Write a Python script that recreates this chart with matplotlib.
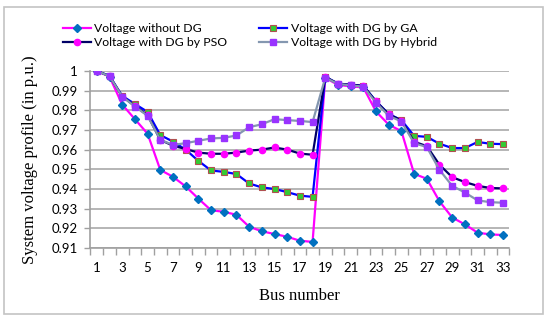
import matplotlib
matplotlib.use("Agg")
import matplotlib.pyplot as plt
from matplotlib.patches import Rectangle

buses = list(range(1, 34))
v_without = [1.0, 0.9971, 0.9829, 0.9755, 0.9681, 0.9497, 0.9462, 0.9413, 0.9351, 0.9292,
             0.9284, 0.9269, 0.9208, 0.9185, 0.9171, 0.9157, 0.9137, 0.9131, 0.9965, 0.9929,
             0.9922, 0.9916, 0.9794, 0.9727, 0.9694, 0.9477, 0.9452, 0.9337, 0.9255, 0.9220,
             0.9178, 0.9169, 0.9166]
v_ga = [1.0, 0.9975, 0.9873, 0.9832, 0.9792, 0.9674, 0.9641, 0.9600, 0.9543, 0.9494,
        0.9487, 0.9476, 0.9428, 0.9408, 0.9400, 0.9384, 0.9366, 0.9360, 0.9970, 0.9936,
        0.9930, 0.9925, 0.9846, 0.9781, 0.9750, 0.9670, 0.9665, 0.9630, 0.9608, 0.9608,
        0.9639, 0.9630, 0.9628]
v_pso = [1.0, 0.9974, 0.9870, 0.9822, 0.9775, 0.9650, 0.9620, 0.9603, 0.9585, 0.9579,
         0.9579, 0.9585, 0.9595, 0.9600, 0.9611, 0.9600, 0.9580, 0.9574, 0.9970, 0.9935,
         0.9930, 0.9924, 0.9845, 0.9780, 0.9748, 0.9640, 0.9618, 0.9523, 0.9460, 0.9435,
         0.9416, 0.9405, 0.9403]
v_hybrid = [1.0, 0.9973, 0.9870, 0.9819, 0.9772, 0.9650, 0.9624, 0.9633, 0.9645, 0.9657,
            0.9660, 0.9672, 0.9714, 0.9729, 0.9755, 0.9750, 0.9746, 0.9740, 0.9966, 0.9934,
            0.9927, 0.9920, 0.9839, 0.9772, 0.9743, 0.9633, 0.9613, 0.9497, 0.9416, 0.9382,
            0.9342, 0.9333, 0.9330]
y_ticks = [0.91, 0.92, 0.93, 0.94, 0.95, 0.96, 0.97, 0.98, 0.99, 1.0]
y_labels = ["0.91", "0.92", "0.93", "0.94", "0.95", "0.96", "0.97", "0.98", "0.99", "1"]

fig = plt.figure(figsize=(5.5, 3.24), dpi=100)
frame = Rectangle((4 / 550, 1 - 314 / 324), 539 / 550, 307 / 324, transform=fig.transFigure,
                  facecolor="none", edgecolor="#C4C4C4", linewidth=1.2, zorder=-5)
fig.add_artist(frame)
ax = fig.add_axes([0.1645, 0.2346, 0.7615, 0.5464])
ax.set_facecolor("none")

l1, = ax.plot(buses, v_without, color="#FF00FF", lw=1.6, marker="D", ms=4.5,
              mfc="#0070C0", mec="#0070C0", label="Voltage without DG", zorder=3)
l2, = ax.plot(buses, v_ga, color="#0000FF", lw=1.6, marker="s", ms=4.3,
              mfc="#33CC33", mec="#B05050", mew=0.8, label="Voltage with DG by GA", zorder=4)
l3, = ax.plot(buses, v_pso, color="#000066", lw=1.6, marker="o", ms=4.5,
              mfc="#FF00FF", mec="#FF00FF", label="Voltage with DG by PSO", zorder=5)
l4, = ax.plot(buses, v_hybrid, color="#8497B0", lw=1.6, marker="s", ms=4.5,
              mfc="#9933FF", mec="#9933FF", label="Voltage with DG by Hybrid", zorder=6)

ax.set_xlim(0.5, 33.5)
ax.set_ylim(0.91, 1.0)
ax.set_yticks(y_ticks)
ax.set_yticklabels(y_labels, fontfamily="Lato", fontsize=9.5)
ax.set_xticks(buses[::2])
ax.set_xticklabels([str(b) for b in buses[::2]], fontfamily="Lato", fontsize=9.5)
ax.set_xticks([b + 0.5 for b in range(0, 34)], minor=True)
ax.tick_params(axis="x", which="major", length=0, pad=10)
ax.tick_params(axis="x", which="minor", length=5, color="#A0A0A0", width=1)
ax.tick_params(axis="y", length=4, color="#A0A0A0", width=1, pad=5)
ax.grid(axis="y", color="#B0B0B0", lw=1.3, zorder=0)
for s in ["top", "right"]:
    ax.spines[s].set_visible(False)
for s in ["bottom", "left"]:
    ax.spines[s].set_color("#A0A0A0")
    ax.spines[s].set_linewidth(1.2)

ax.set_ylabel("System voltage profile (in p.u.)", fontfamily="Liberation Serif", fontsize=12, labelpad=10)
ax.set_xlabel("Bus number", fontfamily="Liberation Serif", fontsize=12, labelpad=10)

leg = fig.legend(handles=[l1, l3, l2, l4], ncol=2, loc="upper left", bbox_to_anchor=(0.105, 0.943),
                 frameon=False, prop={"family": "Lato", "size": 8.8}, handlelength=2.3,
                 handletextpad=0.3, columnspacing=2.6, labelspacing=0.22, borderaxespad=0)

fig.savefig("out.png", dpi=100)
